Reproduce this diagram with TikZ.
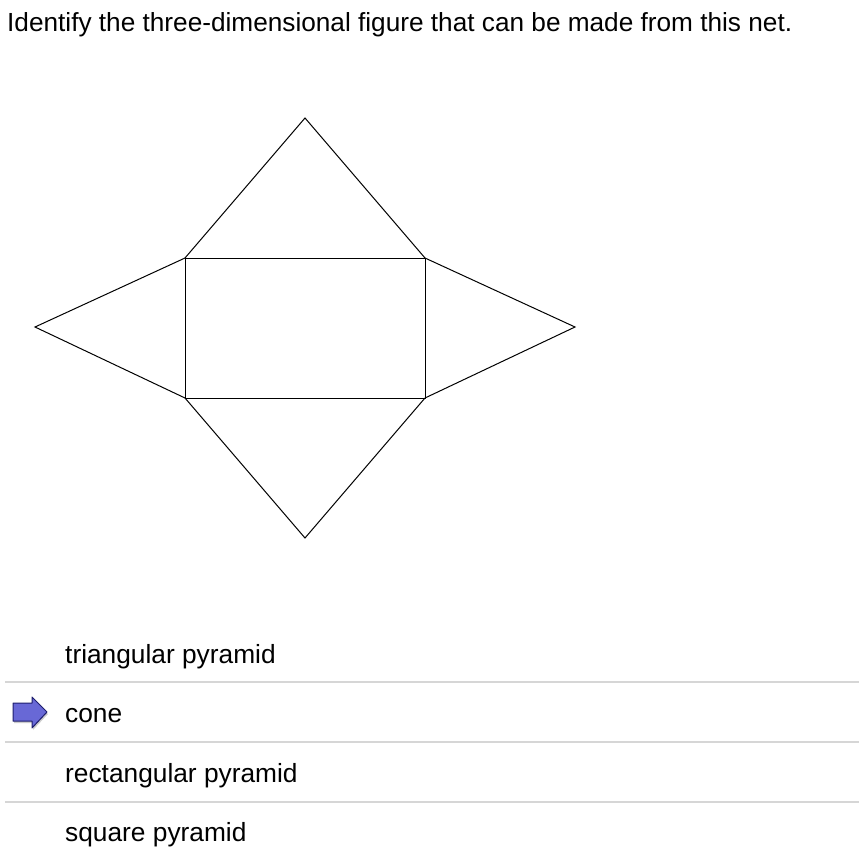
\documentclass[tikz,border=0pt]{standalone}
\usepackage{fontspec}
\setmainfont{Liberation Sans}
\usepackage{tikz}
\usetikzlibrary{positioning,shadows}
\definecolor{qsgray}{RGB}{214,214,214}
\definecolor{qsblue}{RGB}{104,104,214}
\definecolor{qsnavy}{RGB}{30,30,110}
\tikzstyle{netline} = [draw=black, line width=1pt]
\tikzstyle{choice} = [anchor=base west, inner sep=0pt, font=\fontsize{26.3}{30}\selectfont]
\tikzstyle{sepline} = [draw=qsgray, line width=1.6pt]
\tikzstyle{pointer} = [fill=qsblue, draw=qsnavy, line width=1pt, line join=round, drop shadow={shadow xshift=1pt, shadow yshift=-2pt, opacity=0.4}]

\begin{document}
\begin{tikzpicture}[x=1pt, y=-1pt]
\useasboundingbox[fill=white] (0,0) rectangle (859,857);
% Question
\node[anchor=base west, inner sep=0pt, font=\fontsize{26.2}{30}\selectfont] (question) at (7,31) {Identify the three-dimensional figure that can be made from this net.};

% Net of the pyramid
\coordinate (tl) at (185,258);
\coordinate (tr) at (425,258);
\coordinate (br) at (425,398);
\coordinate (bl) at (185,398);
\coordinate (top) at (305,118);
\coordinate (bottom) at (305,538);
\coordinate (left) at (35,327);
\coordinate (right) at (575,327);
\draw[netline] (tl) -- (tr) -- (br) -- (bl) -- cycle;
\draw[netline] (tl) -- (top) -- (tr);
\draw[netline] (bl) -- (bottom) -- (br);
\draw[netline] (tl) -- (left) -- (bl);
\draw[netline] (tr) -- (right) -- (br);

% Answer choices
\node[choice] (optA) at (65,663) {triangular pyramid};
\node[choice] (optB) at (65,722) {cone};
\node[choice] (optC) at (65,782) {rectangular pyramid};
\node[choice] (optD) at (65,841) {square pyramid};

\coordinate (sepA) at (5,682);
\coordinate (sepB) at (5,742);
\coordinate (sepC) at (5,802);
\draw[sepline] (sepA) -- ++(854,0);
\draw[sepline] (sepB) -- ++(854,0);
\draw[sepline] (sepC) -- ++(854,0);

% Selected answer
\draw[pointer] (13,703) -- (32,703) -- (32,697) -- (47,712) -- (32,728) -- (32,721) -- (13,721) -- cycle;
\end{tikzpicture}
\end{document}
